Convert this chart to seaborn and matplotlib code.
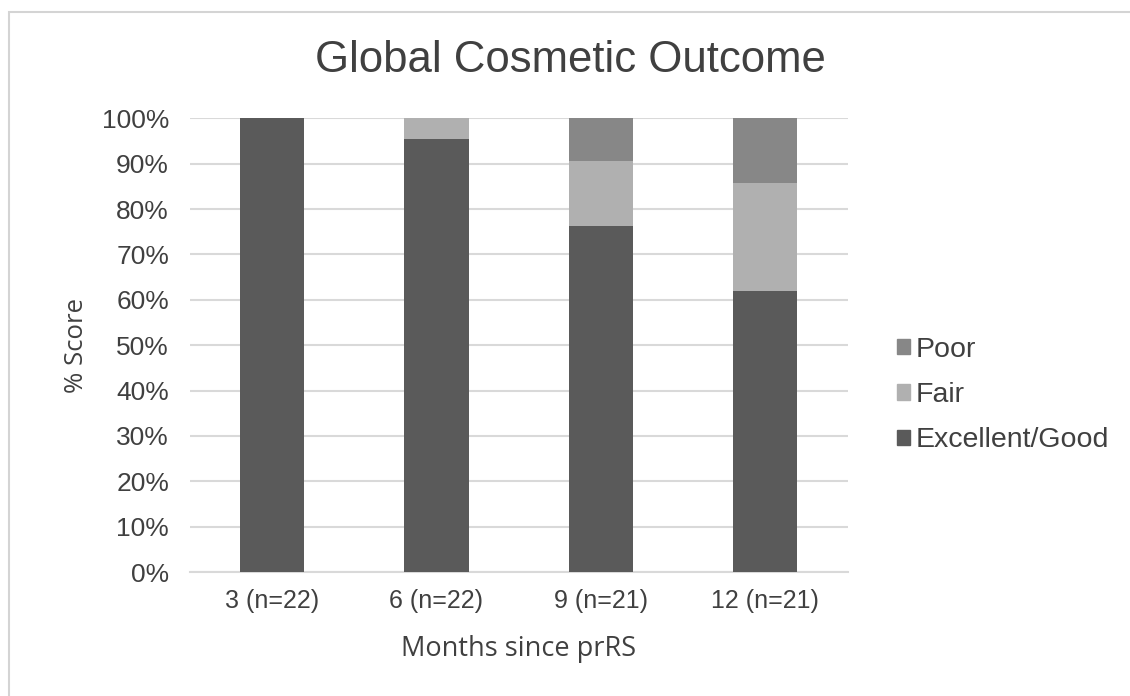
import pandas as pd
import matplotlib.pyplot as plt
import matplotlib.patches as mpatches
import seaborn as sns

sns.set_style("white")
plt.rcParams['font.family'] = ['Liberation Sans', 'DejaVu Sans']

# data (percent of patients per category)
months = ['3 (n=22)', '6 (n=22)', '9 (n=21)', '12 (n=21)']
excellent_good = [100.0, 95.5, 76.2, 61.9]
fair = [0.0, 4.5, 14.3, 23.8]
poor = [0.0, 0.0, 9.5, 14.3]

categories = ['Excellent/Good', 'Fair', 'Poor']
colors = {'Excellent/Good': '#5a5a5a', 'Fair': '#b0b0b0', 'Poor': '#878787'}
text_col = '#404040'

df = pd.DataFrame({'month': months, 'Excellent/Good': excellent_good,
                   'Fair': fair, 'Poor': poor})
# cumulative tops so overlapping bars look stacked
df['top_fair'] = df['Excellent/Good'] + df['Fair']
df['top_poor'] = df['top_fair'] + df['Poor']

fig = plt.figure(figsize=(11.3, 6.96), dpi=100)
ax = fig.add_axes([0.168, 0.178, 0.582, 0.652])

# outer frame like the exported chart area
fig.patches.append(mpatches.Rectangle((0.008, -0.2), 1.2, 1.183,
                                      transform=fig.transFigure,
                                      fill=False, edgecolor='#d4d4d4',
                                      linewidth=1.5))

bw = 0.39
sns.barplot(x='month', y='top_poor', data=df, order=months, color=colors['Poor'],
            width=bw, saturation=1, linewidth=0, ax=ax, zorder=3)
sns.barplot(x='month', y='top_fair', data=df, order=months, color=colors['Fair'],
            width=bw, saturation=1, linewidth=0, ax=ax, zorder=3)
sns.barplot(x='month', y='Excellent/Good', data=df, order=months,
            color=colors['Excellent/Good'], width=bw, saturation=1, linewidth=0,
            ax=ax, zorder=3)

ax.set_ylim(0, 100)
ax.set_xlim(-0.5, 3.5)
ax.set_yticks(range(0, 101, 10))
ax.set_yticklabels([f'{v}%' for v in range(0, 101, 10)])
ax.yaxis.grid(True, color='#d9d9d9', linewidth=1.5, zorder=0)
ax.set_axisbelow(True)
for s in ['top', 'right', 'left']:
    ax.spines[s].set_visible(False)
ax.spines['bottom'].set_color('#d9d9d9')
ax.spines['bottom'].set_linewidth(1.5)
ax.tick_params(axis='y', length=0, labelsize=19, colors=text_col, pad=15)
ax.tick_params(axis='x', length=0, labelsize=18, colors=text_col, pad=12)

ax.set_xlabel('Months since prRS', fontsize=19.5, color=text_col, labelpad=16,
              family=['Open Sans', 'DejaVu Sans'])
ax.set_ylabel('% Score', fontsize=18.5, color=text_col, labelpad=9,
              family=['Open Sans', 'DejaVu Sans'])
fig.text(0.505, 0.913, 'Global Cosmetic Outcome', ha='center', va='center',
         fontsize=31.5, color=text_col)

handles = [mpatches.Patch(color=colors[c], label=c) for c in reversed(categories)]
ax.legend(handles=handles, loc='center left', bbox_to_anchor=(1.037, 0.39),
          frameon=False, fontsize=20.5, handlelength=0.45, handleheight=0.45,
          handletextpad=0.2, labelspacing=0.68, labelcolor=text_col)

fig.savefig('out.png', dpi=100)
